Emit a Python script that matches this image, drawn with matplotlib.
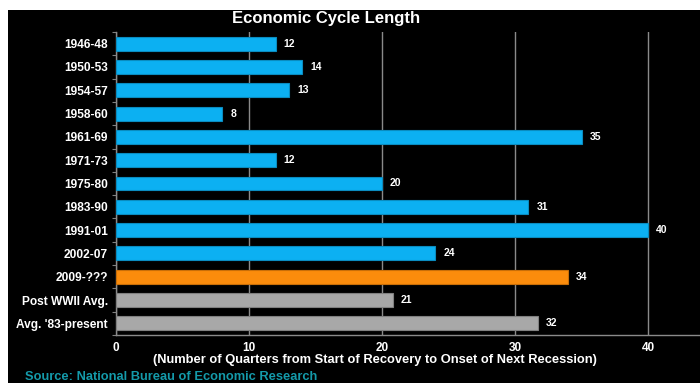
import matplotlib.pyplot as plt
from matplotlib.patches import Rectangle

plt.rcParams['font.family'] = ['Liberation Sans', 'DejaVu Sans']

categories = ['1946-48', '1950-53', '1954-57', '1958-60', '1961-69', '1971-73',
              '1975-80', '1983-90', '1991-01', '2002-07', '2009-???',
              'Post WWII Avg.', "Avg. '83-present"]
quarters = [12, 14, 13, 8, 35, 12, 20, 31, 40, 24, 34, 20.8, 31.7]
kinds = ['cycle'] * 10 + ['current'] + ['avg'] * 2
xticks = [0, 10, 20, 30, 40]

colors = {'cycle': '#0cb0f2', 'current': '#fb8c0c', 'avg': '#a8a8a8'}
edges = {'cycle': '#0a8cc0', 'current': '#c86e08', 'avg': '#808080'}

fig = plt.figure(figsize=(7, 3.83), dpi=100, facecolor='black')
# white strips at top and left edge of the screenshot
fig.patches.append(Rectangle((0, 1 - 10 / 383), 1, 10 / 383, transform=fig.transFigure,
                             facecolor='white', edgecolor='none', zorder=10))
fig.patches.append(Rectangle((0, 0), 8 / 700, 1, transform=fig.transFigure,
                             facecolor='white', edgecolor='none', zorder=10))

ax = fig.add_axes([116 / 700, 1 - 335 / 383, 1 - 116 / 700, 303 / 383])
ax.set_facecolor('black')

y = range(len(categories))
ax.barh(y, quarters, height=0.6,
        color=[colors[k] for k in kinds],
        edgecolor=[edges[k] for k in kinds], linewidth=0.8, zorder=3)
for yi, v in zip(y, quarters):
    ax.text(v + 0.6, yi, f'{v:.0f}', va='center', ha='left', color='white',
            fontsize=7.5, fontweight='bold', zorder=4)

ax.set_xlim(0, 584 / 13.3)
ax.set_ylim(len(categories) - 0.5, -0.5)
ax.set_yticks(list(y))
ax.set_yticklabels(categories, color='white', fontsize=8.6, fontweight='bold')
ax.set_yticks([i + 0.5 for i in range(-1, len(categories))], minor=True)
ax.set_xticks(xticks)
ax.set_xticklabels([str(t) for t in xticks], color='white', fontsize=8.5,
                   fontweight='bold')
ax.tick_params(axis='y', which='major', length=0, pad=6)
ax.tick_params(axis='y', which='minor', length=3, color='#808080', width=0.8)
ax.tick_params(axis='x', length=0, pad=5)
ax.grid(axis='x', color='#8a8a8a', linewidth=1, zorder=1)
for s in ['top', 'right']:
    ax.spines[s].set_visible(False)
for s in ['left', 'bottom']:
    ax.spines[s].set_color('#8a8a8a')
    ax.spines[s].set_linewidth(1)

fig.text(326 / 700, 1 - 18 / 383, 'Economic Cycle Length', color='white', fontsize=12,
         fontweight='bold', ha='center', va='center')
fig.text(375 / 700, 1 - 360 / 383,
         '(Number of Quarters from Start of Recovery to Onset of Next Recession)',
         color='white', fontsize=9.3, fontweight='bold', ha='center', va='center')
fig.text(25 / 700, 1 - 377 / 383, 'Source: National Bureau of Economic Research',
         color='#149aaa', fontsize=9.3, fontweight='bold', ha='left', va='center')

fig.savefig('out.png', dpi=100, facecolor='black')
